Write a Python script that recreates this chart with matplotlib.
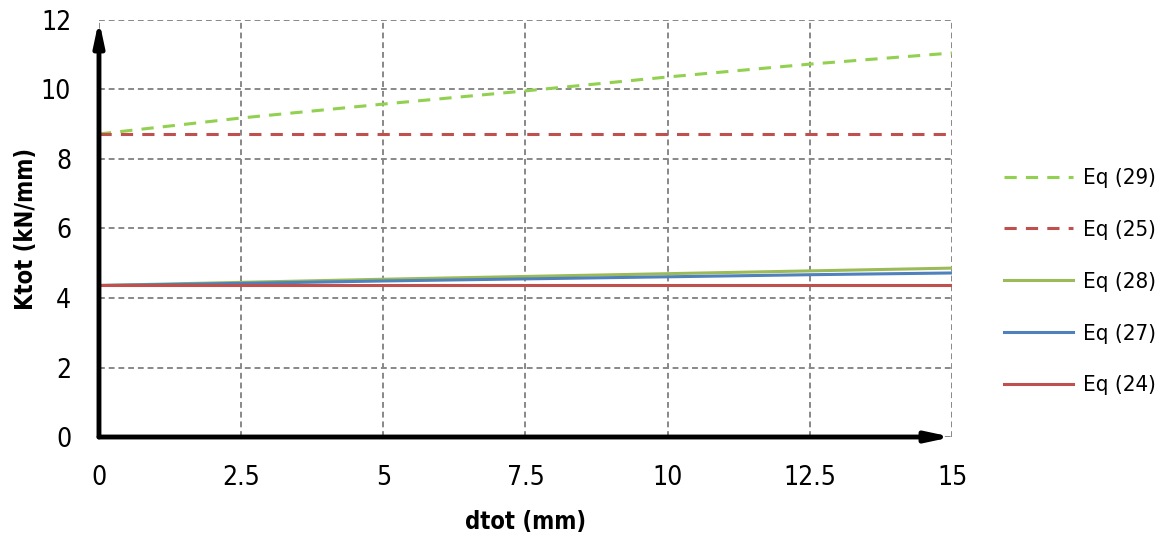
import matplotlib
matplotlib.use("Agg")
import matplotlib.pyplot as plt

x = [0, 2.5, 5, 7.5, 10, 12.5, 15]
eq29 = [8.72, 9.18, 9.58, 9.96, 10.36, 10.73, 11.05]
eq25 = [8.72, 8.72, 8.72, 8.72, 8.72, 8.72, 8.72]
eq28 = [4.36, 4.45, 4.54, 4.62, 4.70, 4.78, 4.86]
eq27 = [4.36, 4.42, 4.49, 4.55, 4.61, 4.67, 4.72]
eq24 = [4.36, 4.36, 4.36, 4.36, 4.36, 4.36, 4.36]
xticks = [0, 2.5, 5, 7.5, 10, 12.5, 15]
xticklabels = ["0", "2.5", "5", "7.5", "10", "12.5", "15"]
yticks = [0, 2, 4, 6, 8, 10, 12]

fam = ['DejaVu Sans', 'Liberation Sans']
plt.rcParams['font.family'] = fam
plt.rcParams['font.stretch'] = 'condensed'

fig = plt.figure(figsize=(11.59, 5.37), dpi=100)
ax = fig.add_axes([0.0854, 0.1862, 0.7360, 0.7766])

ax.plot(x, eq29, color='#92D050', lw=2.2, ls=(0, (4, 3)), label='Eq (29)')
ax.plot(x, eq25, color='#C0504D', lw=2.2, ls=(0, (4, 3)), label='Eq (25)')
ax.plot(x, eq28, color='#9BBB59', lw=2.2, label='Eq (28)')
ax.plot(x, eq27, color='#4F81BD', lw=2.2, label='Eq (27)')
ax.plot(x, eq24, color='#C0504D', lw=2.2, label='Eq (24)')

ax.set_xlim(0, 15)
ax.set_ylim(0, 12)
ax.set_xticks(xticks)
ax.set_xticklabels(xticklabels)
ax.set_yticks(yticks)
ax.tick_params(length=0, labelsize=19)
ax.tick_params(axis='x', pad=20)
ax.tick_params(axis='y', pad=20)
ax.grid(True, color='#888888', ls=(0, (3, 2)), lw=1.4)
for s in ax.spines.values():
    s.set_visible(False)
ax.set_axisbelow(True)

# arrow axes
ax.annotate('', xy=(0, 1.0), xytext=(0, 0), xycoords='axes fraction',
            arrowprops=dict(arrowstyle='-|>,head_length=1.4,head_width=0.3', color='black', lw=3.5,
                            shrinkA=0, shrinkB=0), annotation_clip=False)
ax.annotate('', xy=(1.0, 0), xytext=(0, 0), xycoords='axes fraction',
            arrowprops=dict(arrowstyle='-|>,head_length=1.4,head_width=0.3', color='black', lw=3.5,
                            shrinkA=0, shrinkB=0), annotation_clip=False)

ax.set_xlabel('dtot (mm)', fontsize=17, fontweight='bold')
ax.set_ylabel('Ktot (kN/mm)', fontsize=17, fontweight='bold')
ax.xaxis.set_label_coords(0.5, -0.175)
ax.yaxis.set_label_coords(-0.0715, 0.5)

leg = fig.legend(loc='center left', bbox_to_anchor=(0.866, 0.475), frameon=False,
                 borderpad=0, borderaxespad=0,
                 fontsize=16, handlelength=3.1, handletextpad=0.45, labelspacing=1.43)

fig.savefig('out.png', dpi=100)
